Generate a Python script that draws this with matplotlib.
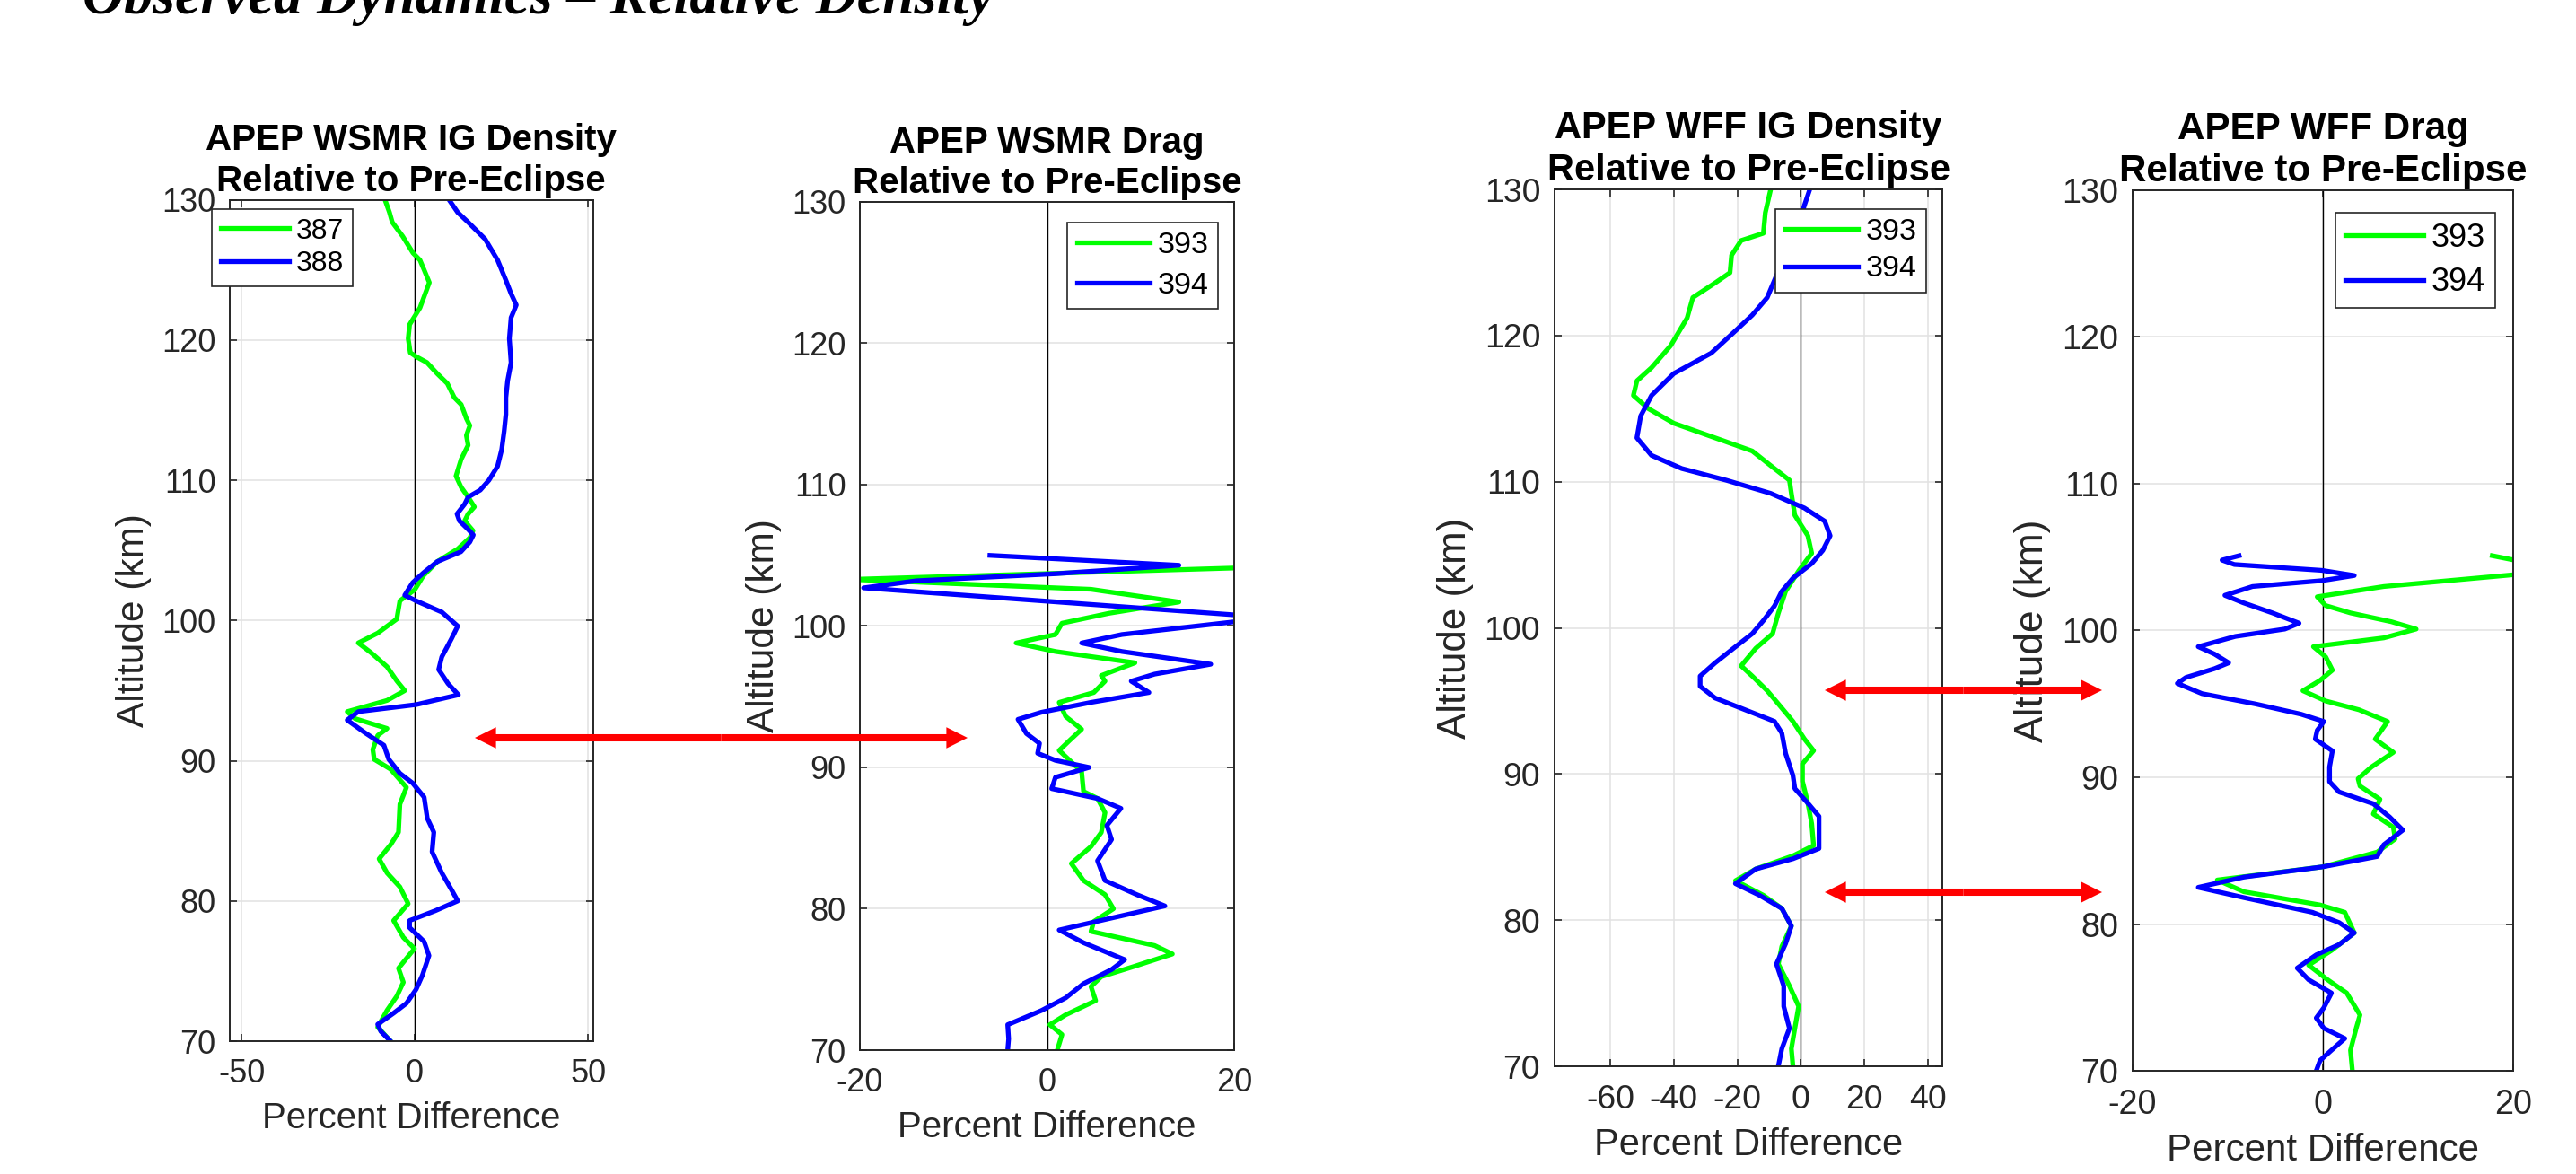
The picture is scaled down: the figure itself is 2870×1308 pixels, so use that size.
import matplotlib
matplotlib.use("Agg")
import matplotlib.pyplot as plt
from matplotlib.patches import FancyArrowPatch

plt.rcParams['font.family'] = ['Liberation Sans', 'DejaVu Sans']
plt.rcParams['axes.unicode_minus'] = False

# ---------------- data (altitude km, percent difference) ----------------
# Panel 1: APEP WSMR IG Density
p1_alt_387 = [130.0, 129.1, 128.4, 127.4, 126.2, 125.7, 125.0, 124.1, 123.3, 122.3, 121.1, 120.1,
              119.1, 118.8, 118.4, 117.6, 116.9, 115.9, 115.4, 114.4, 113.9, 113.2, 112.5, 111.5,
              110.3, 109.5, 108.8, 108.1, 107.6, 107.1, 106.4, 105.9, 105.1, 104.2, 103.2, 102.2,
              101.4, 100.1, 99.1, 98.4, 97.7, 96.7, 95.7, 95.0, 94.3, 93.5, 93.0, 92.3, 91.8, 90.8,
              90.1, 89.4, 88.1, 86.9, 84.9, 84.0, 83.0, 82.0, 81.0, 79.8, 78.6, 77.4, 76.6, 75.2,
              74.2, 73.2, 72.2, 71.0, 70.0]
p1_val_387 = [-8.6, -7.3, -6.5, -3.5, -0.5, 1.5, 2.7, 4.2, 3.0, 1.5, -1.5, -1.9,
              -1.3, 0.5, 3.5, 6.5, 9.4, 11.4, 13.4, 14.9, 15.9, 14.9, 15.4, 13.4,
              11.9, 13.4, 15.4, 17.2, 15.4, 14.4, 16.8, 15.9, 12.4, 6.5, 2.5, 0.0,
              -4.3, -5.2, -10.7, -16.3, -12.6, -8.0, -5.2, -2.9, -8.0, -19.5, -17.2, -8.0, -10.7, -12.1,
              -11.7, -7.0, -2.4, -4.3, -4.7, -7.0, -10.3, -8.0, -4.3, -1.9, -6.1, -3.3, -0.1, -4.7,
              -3.3, -5.2, -8.0, -10.7, -7.0]
p1_alt_388 = [130.0, 129.1, 128.4, 127.2, 125.7, 124.2, 123.3, 122.5, 121.6, 120.1, 118.4, 117.1,
              115.9, 114.7, 113.5, 112.2, 111.0, 110.0, 109.3, 108.8, 108.3, 107.6, 107.1, 106.5,
              106.1, 105.6, 104.9, 104.2, 103.4, 102.7, 101.8, 101.4, 100.6, 99.6, 98.7, 97.4,
              96.5, 95.5, 94.7, 94.0, 93.5, 92.9, 92.0, 91.1, 90.1, 89.1, 88.4, 87.4, 85.9, 84.9,
              83.5, 82.0, 80.8, 80.0, 79.3, 78.6, 78.1, 77.1, 76.1, 74.7, 73.7, 72.7, 72.0, 71.2,
              70.7, 70.0]
p1_val_388 = [9.9, 12.4, 15.4, 20.3, 23.9, 26.4, 27.8, 29.3, 27.8, 27.3, 27.8, 26.8,
              26.3, 26.3, 25.8, 25.1, 23.9, 21.4, 18.9, 15.4, 14.4, 12.2, 12.9, 15.4,
              16.9, 15.9, 13.3, 6.5, 2.5, -0.6, -2.9, 0.4, 7.8, 12.4, 10.6, 7.8,
              6.9, 9.6, 12.6, 0.4, -16.3, -19.5, -14.4, -8.9, -7.5, -4.3, -0.6, 2.7, 3.6, 5.5,
              5.0, 7.8, 10.6, 12.4, 5.9, -1.5, -1.5, 2.7, 4.1, 2.2, 0.4, -2.4, -6.1, -10.7,
              -9.8, -7.0]

# Panel 2: APEP WSMR Drag
p2_alt_393 = [104.3, 103.3, 102.6, 101.7, 100.9, 100.2, 99.4, 98.8, 98.2, 97.4, 96.5, 96.1, 95.3,
              94.6, 93.6, 92.7, 91.9, 91.2, 89.7, 88.3, 87.8, 86.8, 85.4, 84.4, 83.2, 82.0, 81.0,
              80.0, 79.1, 78.4, 77.4, 76.8, 75.9, 75.2, 74.5, 73.5, 72.5, 71.8, 71.1, 70.0]
p2_val_393 = [30.0, -21.0, 4.7, 14.1, 6.6, 1.6, 0.9, -3.3, 0.9, 9.4, 5.8, 6.2, 5.0,
              1.3, 2.0, 3.7, 2.4, 1.3, 3.7, 3.9, 5.4, 6.2, 5.8, 4.7, 2.6, 3.9, 6.2,
              7.1, 5.0, 4.7, 11.5, 13.4, 9.2, 5.8, 4.7, 5.2, 2.0, 0.3, 1.6, 1.1]
p2_alt_394 = [105.0, 104.3, 103.7, 103.2, 102.7, 100.6, 99.4, 98.8, 98.2, 97.3, 96.6, 96.1, 95.3,
              94.6, 93.9, 93.4, 92.4, 91.7, 91.0, 90.5, 90.0, 89.3, 88.5, 87.8, 87.1, 85.9, 84.9,
              83.4, 82.0, 81.0, 80.2, 79.3, 78.5, 77.6, 76.4, 75.7, 74.7, 73.7, 72.8, 71.8, 70.8,
              70.0]
p2_val_394 = [-6.1, 14.1, 0.9, -14.0, -19.6, 24.0, 8.0, 3.7, 8.0, 17.5, 11.5, 9.0, 10.9,
              4.7, -0.6, -3.1, -2.2, -0.8, -1.0, 0.9, 4.5, 0.9, 0.5, 5.4, 7.9, 6.4, 6.9,
              5.4, 6.2, 9.6, 12.6, 6.6, 1.3, 3.9, 8.3, 6.9, 3.9, 2.0, -0.6, -4.2, -4.1,
              -4.2]

# Panel 3: APEP WFF IG Density
p3_alt_393 = [130.0, 128.4, 127.0, 126.5, 125.5, 124.3, 123.6, 122.6, 121.2, 119.3, 117.8, 116.9,
              115.9, 115.0, 114.0, 113.0, 112.1, 111.1, 110.1, 109.2, 107.7, 106.3, 105.1, 103.9,
              102.5, 101.0, 99.6, 98.6, 97.4, 96.7, 95.7, 94.8, 93.6, 92.4, 91.6, 90.7, 89.5,
              88.0, 86.6, 85.1, 84.4, 83.5, 82.7, 81.7, 80.8, 79.6, 78.2, 77.0, 75.5, 74.1,
              72.6, 71.2, 70.0]
p3_val_393 = [-9.5, -11.2, -11.8, -18.8, -21.8, -22.3, -27.0, -34.0, -35.8, -41.0, -47.0, -51.6,
              -52.7, -48.0, -40.0, -27.0, -15.3, -9.5, -3.6, -3.0, -1.9, 2.2, 3.4, -0.7,
              -4.8, -7.1, -8.9, -14.2, -18.8, -15.3, -10.6, -7.1, -2.5, 1.1, 4.0, 0.5, 0.5,
              2.2, 3.4, 4.0, -2.5, -14.2, -20.6, -11.8, -6.0, -3.0, -6.0, -7.1, -3.6, -0.7,
              -1.9, -3.0, -2.5]
p3_alt_394 = [130.0, 128.9, 127.0, 125.5, 124.1, 122.6, 121.4, 120.2, 118.8, 117.4, 115.9, 114.5,
              113.0, 111.8, 110.9, 110.1, 109.2, 108.2, 107.3, 106.3, 105.3, 104.4, 103.4, 102.5,
              101.5, 100.5, 99.6, 98.6, 97.6, 96.7, 96.0, 95.2, 94.5, 93.6, 92.8, 91.4, 89.9,
              89.0, 88.0, 87.1, 85.6, 84.9, 84.2, 83.5, 82.5, 81.7, 80.8, 79.6, 78.4, 77.0,
              75.5, 74.1, 72.6, 71.2, 70.0]
p3_val_394 = [2.8, 1.1, -1.5, -4.5, -7.7, -10.6, -15.3, -21.2, -28.2, -40.0, -47.0, -50.4,
              -51.6, -47.0, -37.5, -23.5, -9.5, 1.1, 7.5, 9.2, 6.9, 3.4, -2.5, -6.0,
              -8.3, -11.8, -15.3, -21.2, -27.0, -31.7, -31.7, -27.0, -18.8, -8.3, -6.0, -4.8, -2.5,
              -1.9, 2.2, 5.7, 5.7, 5.7, -2.5, -14.2, -20.6, -13.0, -6.0, -3.0, -4.8, -7.7,
              -5.4, -5.4, -3.6, -6.0, -7.1]

# Panel 4: APEP WFF Drag
p4_alt_393 = [105.1, 104.3, 103.8, 103.0, 102.3, 101.7, 101.2, 100.6, 100.1, 99.5, 98.9, 98.2,
              97.3, 96.6, 95.9, 95.2, 94.6, 93.8, 92.6, 91.7, 90.7, 89.9, 89.4, 88.5, 87.5,
              86.6, 85.8, 84.9, 83.9, 83.0, 82.2, 81.3, 80.8, 79.4, 78.2, 77.2, 76.2, 75.3,
              73.8, 72.9, 71.4, 70.0]
p4_val_393 = [17.8, 24.0, 20.0, 6.4, -0.6, 0.3, 2.9, 7.2, 9.8, 6.4, -1.0, 0.3,
              1.0, -0.3, -2.1, 0.3, 3.8, 6.8, 5.5, 7.4, 5.1, 3.7, 3.9, 6.0, 5.3,
              7.4, 7.6, 5.7, 0.0, -11.1, -8.3, -0.3, 2.3, 3.3, 0.9, -1.5, 0.5, 2.5,
              3.9, 3.5, 2.9, 3.1]
p4_alt_394 = [105.1, 104.8, 104.5, 104.1, 103.75, 103.4, 103.0, 102.4, 101.9, 101.2, 100.5, 100.1,
              99.6, 98.9, 98.4, 97.8, 97.4, 96.8, 96.4, 95.7, 95.0, 94.3, 93.8, 93.2, 92.6,
              91.8, 90.7, 89.7, 89.0, 88.2, 87.3, 86.4, 85.4, 84.6, 83.9, 83.2, 82.5, 81.8,
              80.8, 80.1, 79.4, 78.6, 77.9, 77.0, 76.2, 75.3, 74.3, 73.6, 72.9, 72.2, 71.4,
              70.7, 70.0]
p4_val_394 = [-8.8, -10.6, -9.3, -0.1, 3.3, -0.1, -7.4, -10.3, -8.4, -5.3, -2.5, -4.0,
              -9.2, -13.1, -11.4, -9.9, -11.4, -14.4, -15.3, -12.7, -7.1, -2.3, 0.1, -0.6, -0.8,
              1.0, 0.7, 0.7, 1.7, 5.3, 7.0, 8.4, 6.4, 5.7, 0.0, -8.3, -13.1, -8.3,
              -1.1, 1.7, 3.3, 1.7, -0.7, -2.7, -1.5, 0.9, 0.1, -0.7, 0.1, 2.3, 0.9,
              -0.3, -0.7]

titles = ["APEP WSMR IG Density\nRelative to Pre-Eclipse",
          "APEP WSMR Drag\nRelative to Pre-Eclipse",
          "APEP WFF IG Density\nRelative to Pre-Eclipse",
          "APEP WFF Drag\nRelative to Pre-Eclipse"]
series_labels = [("387", "388"), ("393", "394"), ("393", "394"), ("393", "394")]
x_ticks = [[-50, 0, 50], [-20, 0, 20], [-60, -40, -20, 0, 20, 40], [-20, 0, 20]]
y_ticks = [70, 80, 90, 100, 110, 120, 130]
main_title = "Observed Dynamics \u2013 Relative Density"
x_label = "Percent Difference"
y_label = "Altitude (km)"

data = [(p1_alt_387, p1_val_387, p1_alt_388, p1_val_388),
        (p2_alt_393, p2_val_393, p2_alt_394, p2_val_394),
        (p3_alt_393, p3_val_393, p3_alt_394, p3_val_394),
        (p4_alt_393, p4_val_393, p4_alt_394, p4_val_394)]

# ---------------- layout ----------------
W, H, DPI = 2870, 1308, 100
fig = plt.figure(figsize=(W / DPI, H / DPI), dpi=DPI)

# pixel boxes: left, top, right, bottom
boxes = [(256, 222.6, 660.5, 1160), (958, 225, 1375, 1170),
         (1732, 211, 2164, 1188), (2376, 212, 2800, 1193)]
xlims = [(-53.4, 51.4), (-20, 20), (-77.5, 44.5), (-20, 20)]
scales = [1.0, 1.0, 1.035, 1.045]
leg_anchor = [("upper left", 236, 233), ("upper right", 1357, 248),
              ("upper right", 2146, 233), ("upper right", 2780, 237)]
leg_size = [23, 24.5, 24.5, 26]
leg_spacing = [0.2, 0.4, 0.3, 0.4]

GREEN = "#00ff00"
BLUE = "#0000ff"
AXC = "#262626"

for i in range(4):
    l, t, r, b = boxes[i]
    s = scales[i]
    ax = fig.add_axes([l / W, 1 - b / H, (r - l) / W, (b - t) / H])
    alt_g, val_g, alt_b, val_b = data[i]
    ax.axvline(0, color="black", lw=1.0, zorder=1.5)
    ax.plot(val_g, alt_g, color=GREEN, lw=3.8, label=series_labels[i][0], zorder=2,
            solid_joinstyle="round")
    ax.plot(val_b, alt_b, color=BLUE, lw=3.8, label=series_labels[i][1], zorder=2.1,
            solid_joinstyle="round")
    ax.set_xlim(*xlims[i])
    ax.set_ylim(70, 130)
    ax.set_xticks(x_ticks[i])
    ax.set_yticks(y_ticks)
    ax.grid(True, color="#e2e2e2", lw=1.1)
    ax.set_axisbelow(True)
    for sp in ax.spines.values():
        sp.set_color(AXC)
        sp.set_linewidth(1.4)
    ax.tick_params(axis="both", direction="in", length=6, width=1.2, top=True, right=True,
                   colors=AXC, labelsize=26 * s)
    ax.tick_params(axis="x", pad=14 * s)
    ax.tick_params(axis="y", pad=11 * s)
    ax.set_xlabel(x_label, fontsize=29 * s, color=AXC, labelpad=9 * s)
    ax.set_ylabel(y_label, fontsize=30.5 * s, color=AXC, labelpad=8 * s)
    ax.set_title(titles[i], fontsize=29 * s, fontweight="bold", linespacing=1.25, pad=7)
    loc, lx, ly = leg_anchor[i]
    leg = ax.legend(loc=loc, bbox_to_anchor=(lx / W, 1 - ly / H), bbox_transform=fig.transFigure,
                    fontsize=leg_size[i], frameon=True, fancybox=False, framealpha=1,
                    edgecolor=AXC, borderpad=0.3, labelspacing=leg_spacing[i], handlelength=2.4,
                    handletextpad=0.25, borderaxespad=0)
    leg.get_frame().set_linewidth(1.2)
    leg.set_zorder(5)

fig.text(92 / W, 1 - 15 / H, main_title, fontfamily=["Liberation Serif", "DejaVu Serif"],
         fontstyle="italic", fontweight="bold", fontsize=46, va="baseline", ha="left")

# red double arrows (figure pixel positions): drawn as two solid heads from the middle
arrows = [(529, 1078, 822), (2033, 2342, 769), (2033, 2342, 994)]
style = "simple,head_length=17,head_width=17,tail_width=5.8"
for x1, x2, y in arrows:
    xm = (x1 + x2) / 2
    for xe in (x1, x2):
        fig.add_artist(FancyArrowPatch((xm / W, 1 - y / H), (xe / W, 1 - y / H),
                                       transform=fig.transFigure, arrowstyle=style,
                                       facecolor="#ff0000", edgecolor="none", lw=0,
                                       mutation_scale=1, shrinkA=0, shrinkB=0, zorder=20))

fig.savefig("out.png", dpi=DPI)
